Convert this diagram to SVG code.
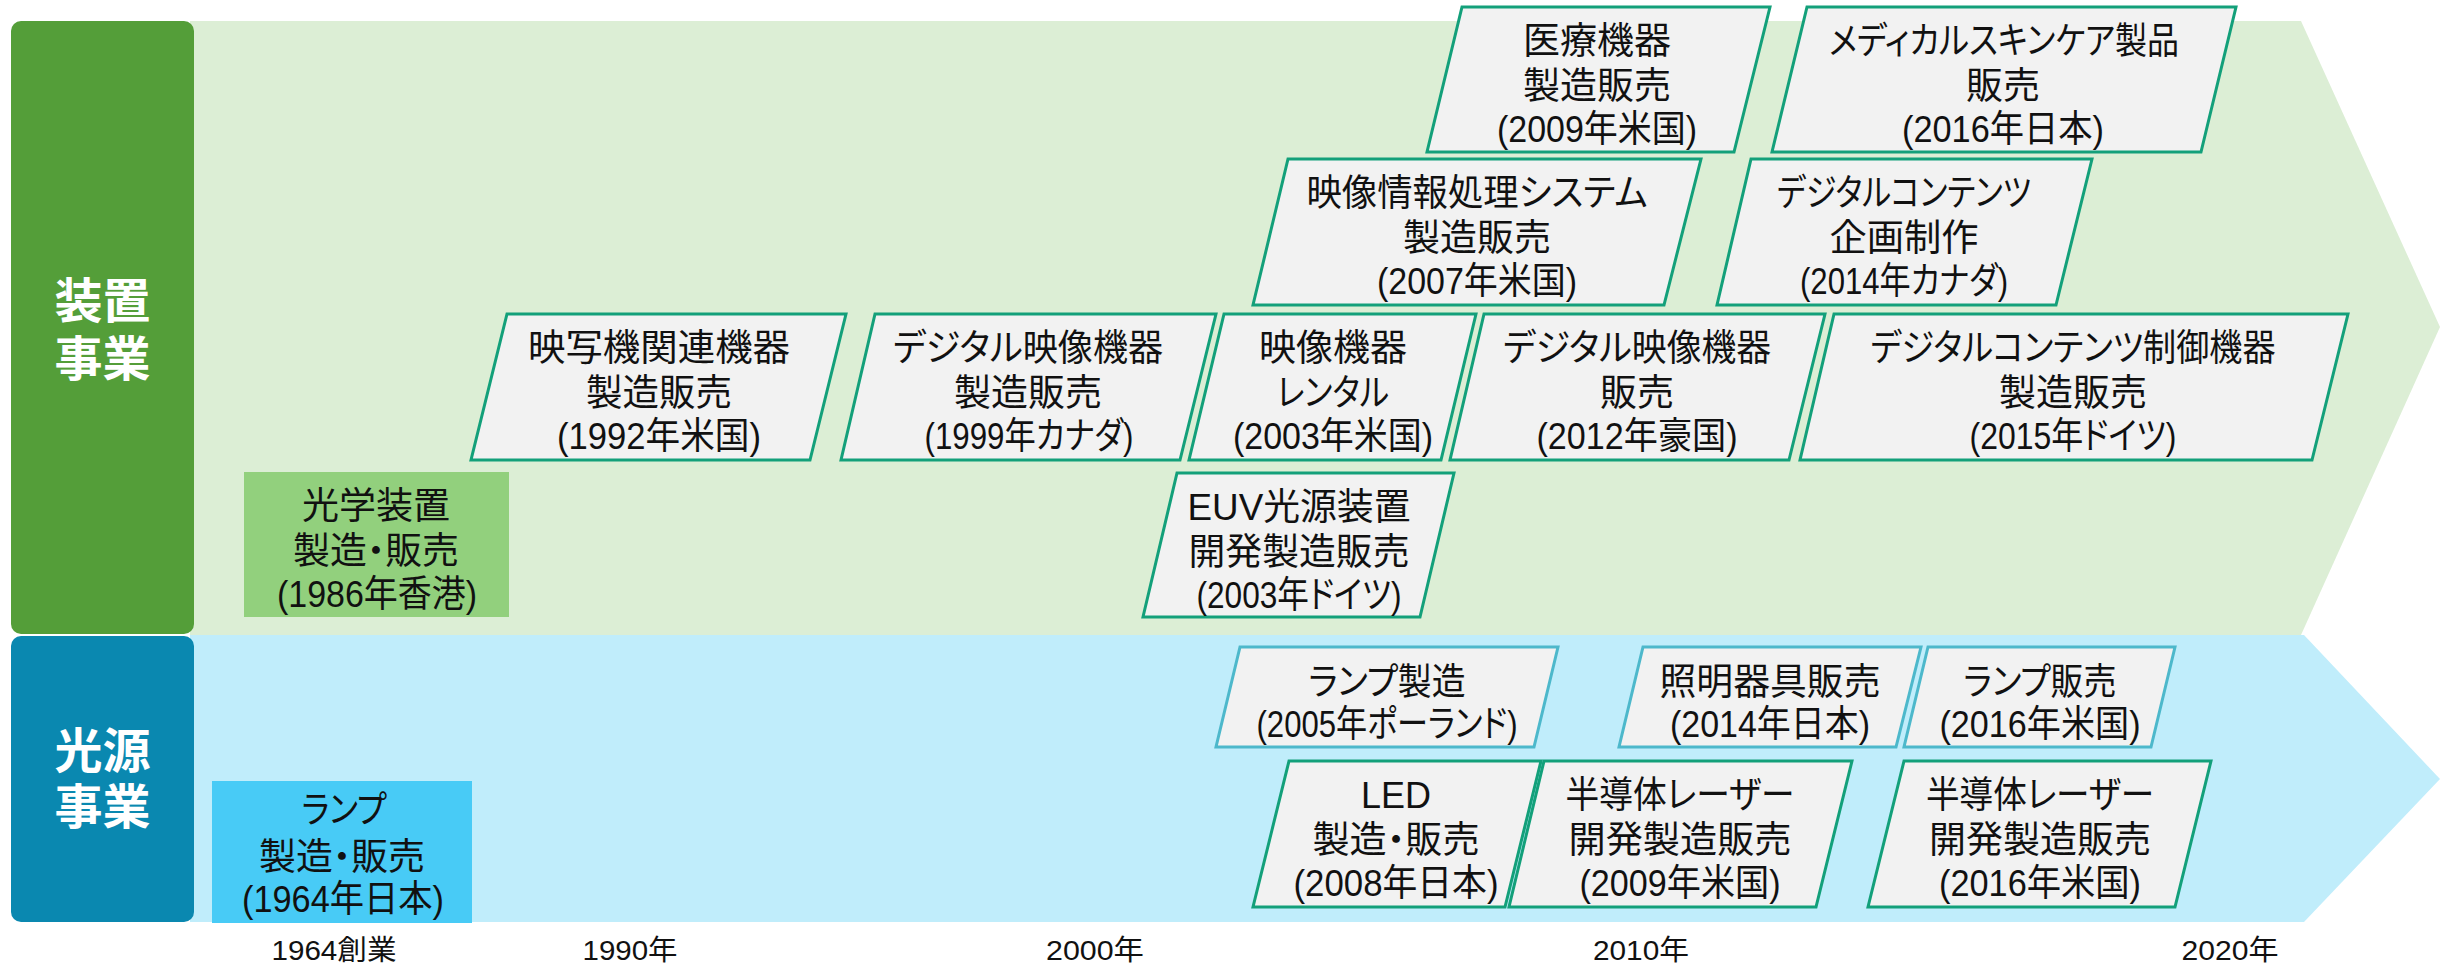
<svg xmlns="http://www.w3.org/2000/svg" width="2440" height="965" viewBox="0 0 2440 965">
<style>
text{font-family:"Liberation Sans","Noto Sans CJK JP","Noto Sans CJK SC",sans-serif}
.t{font-size:37px;text-anchor:middle;fill:#111;font-feature-settings:"palt"}
.lbl{font-size:48px;font-weight:bold;fill:#fff;text-anchor:middle}
.yr{font-size:28px;text-anchor:middle;fill:#111}
.pg{fill:#F2F2F2;stroke:#13A07A;stroke-width:3}
.pb{fill:#F2F2F2;stroke:#4DB8CB;stroke-width:3}
</style>
<rect width="2440" height="965" fill="#fff"/>
<g id="bands">
<polygon points="190,21 2301,21 2440,327 2301,635 190,635" fill="#DCEED5"/>
<polygon points="190,635 2304,635 2440,779 2304,922 190,922" fill="#C0EDFB"/>
</g>
<g id="label-souchi">
<rect x="11" y="21" width="183" height="613" rx="10" fill="#549E39"/>
<text class="lbl" x="102.5" y="318">装置</text>
<text class="lbl" x="102.5" y="376">事業</text>
</g>
<g id="label-kougen">
<rect x="11" y="636" width="183" height="286" rx="10" fill="#0A88B0"/>
<text class="lbl" x="102.5" y="768">光源</text>
<text class="lbl" x="102.5" y="824">事業</text>
</g>
<g id="connectors"></g>
<g id="n-kogaku">
<rect x="244" y="472" width="265" height="145" fill="#92D07D"/>
<text class="t" x="376" y="519" textLength="148" lengthAdjust="spacingAndGlyphs">光学装置</text>
<text class="t" x="376" y="564" textLength="166" lengthAdjust="spacingAndGlyphs">製造・販売</text>
<text class="t" x="377" y="607" textLength="200" lengthAdjust="spacingAndGlyphs">(1986年香港)</text>
</g>
<g id="n-eisha">
<polygon class="pg" points="507,314 846,314 810,460 471,460"/>
<text class="t" x="659" y="361" textLength="262" lengthAdjust="spacingAndGlyphs">映写機関連機器</text>
<text class="t" x="659" y="406" textLength="146" lengthAdjust="spacingAndGlyphs">製造販売</text>
<text class="t" x="659" y="449" textLength="204" lengthAdjust="spacingAndGlyphs">(1992年米国)</text>
</g>
<g id="n-digital1999">
<polygon class="pg" points="875,314 1216,314 1180,460 841,460"/>
<text class="t" x="1028" y="361" textLength="270" lengthAdjust="spacingAndGlyphs">デジタル映像機器</text>
<text class="t" x="1028" y="406" textLength="148" lengthAdjust="spacingAndGlyphs">製造販売</text>
<text class="t" x="1029" y="449" textLength="209" lengthAdjust="spacingAndGlyphs">(1999年カナダ)</text>
</g>
<g id="n-rental">
<polygon class="pg" points="1224,314 1476,314 1441,460 1189,460"/>
<text class="t" x="1333" y="361" textLength="148" lengthAdjust="spacingAndGlyphs">映像機器</text>
<text class="t" x="1333" y="406" textLength="112" lengthAdjust="spacingAndGlyphs">レンタル</text>
<text class="t" x="1333" y="449" textLength="200" lengthAdjust="spacingAndGlyphs">(2003年米国)</text>
</g>
<g id="n-digital2012">
<polygon class="pg" points="1484,314 1825,314 1789,460 1450,460"/>
<text class="t" x="1637" y="361" textLength="268" lengthAdjust="spacingAndGlyphs">デジタル映像機器</text>
<text class="t" x="1637" y="406" textLength="74" lengthAdjust="spacingAndGlyphs">販売</text>
<text class="t" x="1637" y="449" textLength="201" lengthAdjust="spacingAndGlyphs">(2012年豪国)</text>
</g>
<g id="n-control">
<polygon class="pg" points="1834,314 2348,314 2312,460 1800,460"/>
<text class="t" x="2073" y="361" textLength="405" lengthAdjust="spacingAndGlyphs">デジタルコンテンツ制御機器</text>
<text class="t" x="2073" y="406" textLength="148" lengthAdjust="spacingAndGlyphs">製造販売</text>
<text class="t" x="2073" y="449" textLength="207" lengthAdjust="spacingAndGlyphs">(2015年ドイツ)</text>
</g>
<g id="n-euv">
<polygon class="pg" points="1177,473 1454,473 1420,617 1143,617"/>
<text class="t" x="1299" y="520" textLength="223" lengthAdjust="spacingAndGlyphs">EUV光源装置</text>
<text class="t" x="1299" y="565" textLength="221" lengthAdjust="spacingAndGlyphs">開発製造販売</text>
<text class="t" x="1299" y="608" textLength="205" lengthAdjust="spacingAndGlyphs">(2003年ドイツ)</text>
</g>
<g id="n-imaging">
<polygon class="pg" points="1288,159 1701,159 1664,305 1253,305"/>
<text class="t" x="1477" y="206" textLength="341" lengthAdjust="spacingAndGlyphs">映像情報処理システム</text>
<text class="t" x="1477" y="251" textLength="148" lengthAdjust="spacingAndGlyphs">製造販売</text>
<text class="t" x="1477" y="294" textLength="200" lengthAdjust="spacingAndGlyphs">(2007年米国)</text>
</g>
<g id="n-contents">
<polygon class="pg" points="1751,159 2092,159 2056,305 1717,305"/>
<text class="t" x="1904" y="206" textLength="254" lengthAdjust="spacingAndGlyphs">デジタルコンテンツ</text>
<text class="t" x="1904" y="251" textLength="149" lengthAdjust="spacingAndGlyphs">企画制作</text>
<text class="t" x="1904" y="294" textLength="208" lengthAdjust="spacingAndGlyphs">(2014年カナダ)</text>
</g>
<g id="n-medical">
<polygon class="pg" points="1462,7 1770,7 1734,152 1427,152"/>
<text class="t" x="1597" y="54" textLength="148" lengthAdjust="spacingAndGlyphs">医療機器</text>
<text class="t" x="1597" y="99" textLength="148" lengthAdjust="spacingAndGlyphs">製造販売</text>
<text class="t" x="1597" y="142" textLength="200" lengthAdjust="spacingAndGlyphs">(2009年米国)</text>
</g>
<g id="n-skincare">
<polygon class="pg" points="1807,7 2236,7 2201,152 1772,152"/>
<text class="t" x="2004" y="54" textLength="350" lengthAdjust="spacingAndGlyphs">メディカルスキンケア製品</text>
<text class="t" x="2003" y="99" textLength="74" lengthAdjust="spacingAndGlyphs">販売</text>
<text class="t" x="2003" y="142" textLength="202" lengthAdjust="spacingAndGlyphs">(2016年日本)</text>
</g>
<g id="n-lamp1964">
<rect x="212" y="781" width="260" height="142" fill="#48CBF6"/>
<text class="t" x="344" y="823" textLength="85" lengthAdjust="spacingAndGlyphs">ランプ</text>
<text class="t" x="342" y="870" textLength="166" lengthAdjust="spacingAndGlyphs">製造・販売</text>
<text class="t" x="343" y="912" textLength="202" lengthAdjust="spacingAndGlyphs">(1964年日本)</text>
</g>
<g id="n-lamp2005">
<polygon class="pb" points="1240,647 1558,647 1534,747 1216,747"/>
<text class="t" x="1387" y="695" textLength="157" lengthAdjust="spacingAndGlyphs">ランプ製造</text>
<text class="t" x="1387" y="737" textLength="261" lengthAdjust="spacingAndGlyphs">(2005年ポーランド)</text>
</g>
<g id="n-lighting">
<polygon class="pb" points="1643,647 1921,647 1896,747 1619,747"/>
<text class="t" x="1770" y="695" textLength="221" lengthAdjust="spacingAndGlyphs">照明器具販売</text>
<text class="t" x="1770" y="737" textLength="200" lengthAdjust="spacingAndGlyphs">(2014年日本)</text>
</g>
<g id="n-lamp2016">
<polygon class="pb" points="1928,647 2175,647 2151,747 1904,747"/>
<text class="t" x="2040" y="695" textLength="153" lengthAdjust="spacingAndGlyphs">ランプ販売</text>
<text class="t" x="2040" y="737" textLength="201" lengthAdjust="spacingAndGlyphs">(2016年米国)</text>
</g>
<g id="n-led">
<polygon class="pg" points="1289,761 1541,761 1505,907 1253,907"/>
<text class="t" x="1396" y="808" textLength="70" lengthAdjust="spacingAndGlyphs">LED</text>
<text class="t" x="1396" y="853" textLength="167" lengthAdjust="spacingAndGlyphs">製造・販売</text>
<text class="t" x="1396" y="896" textLength="205" lengthAdjust="spacingAndGlyphs">(2008年日本)</text>
</g>
<g id="n-laser2009">
<polygon class="pg" points="1544,761 1852,761 1816,907 1509,907"/>
<text class="t" x="1680" y="808" textLength="229" lengthAdjust="spacingAndGlyphs">半導体レーザー</text>
<text class="t" x="1680" y="853" textLength="223" lengthAdjust="spacingAndGlyphs">開発製造販売</text>
<text class="t" x="1680" y="896" textLength="201" lengthAdjust="spacingAndGlyphs">(2009年米国)</text>
</g>
<g id="n-laser2016">
<polygon class="pg" points="1904,761 2211,761 2175,907 1868,907"/>
<text class="t" x="2040" y="808" textLength="228" lengthAdjust="spacingAndGlyphs">半導体レーザー</text>
<text class="t" x="2040" y="853" textLength="222" lengthAdjust="spacingAndGlyphs">開発製造販売</text>
<text class="t" x="2040" y="896" textLength="202" lengthAdjust="spacingAndGlyphs">(2016年米国)</text>
</g>
<g id="axis">
<text class="yr" x="334" y="960" textLength="125" lengthAdjust="spacingAndGlyphs">1964創業</text>
<text class="yr" x="630" y="960" textLength="95" lengthAdjust="spacingAndGlyphs">1990年</text>
<text class="yr" x="1095" y="960" textLength="98" lengthAdjust="spacingAndGlyphs">2000年</text>
<text class="yr" x="1641" y="960" textLength="96" lengthAdjust="spacingAndGlyphs">2010年</text>
<text class="yr" x="2230" y="960" textLength="97" lengthAdjust="spacingAndGlyphs">2020年</text>
</g>
</svg>
